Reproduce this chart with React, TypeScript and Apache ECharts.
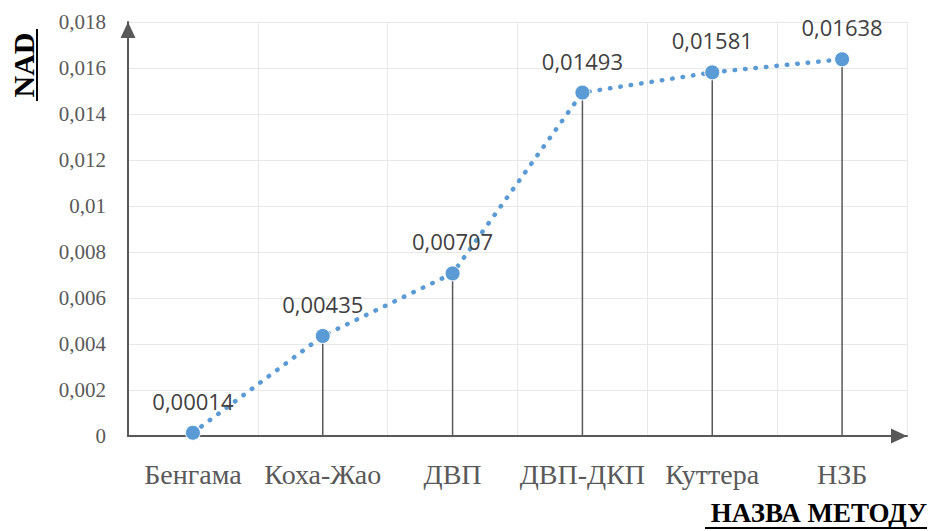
import React, { useEffect, useRef } from "react";
import * as echarts from "echarts";

const categories = ["Бенгама", "Коха-Жао", "ДВП", "ДВП-ДКП", "Куттера", "НЗБ"];
const nadValues = [0.00014, 0.00435, 0.00707, 0.01493, 0.01581, 0.01638];
const yMin = 0;
const yMax = 0.018;
const yStep = 0.002;
const yTitle = "NAD";
const xTitle = "НАЗВА МЕТОДУ";

const SERIF = "Liberation Serif";
const SANS = "Open Sans";

export default function App() {
  const ref = useRef<HTMLDivElement>(null);
  useEffect(() => {
    document.body.style.margin = "0";
    const chart = echarts.init(ref.current!, null, { renderer: "svg" });
    chart.setOption({
      animation: false,
      backgroundColor: "#ffffff",
      textStyle: { fontFamily: SERIF },
      grid: { left: 128, right: 22, top: 22, bottom: 95, containLabel: false },
      xAxis: {
        type: "category",
        data: categories,
        boundaryGap: true,
        axisLine: {
          show: true,
          lineStyle: { color: "#595959", width: 2 },
          symbol: ["none", "triangle"],
          symbolSize: [15, 16],
          symbolOffset: [0, -8],
        },
        axisTick: { show: false },
        splitLine: { show: true, interval: 0, lineStyle: { color: "#E8E8E8", width: 1 } },
        axisLabel: {
          interval: 0,
          margin: 24,
          color: "#595959",
          fontFamily: SERIF,
          fontSize: 28,
        },
      },
      yAxis: {
        type: "value",
        min: yMin,
        max: yMax,
        interval: yStep,
        axisLine: {
          show: true,
          lineStyle: { color: "#595959", width: 2 },
          symbol: ["none", "triangle"],
          symbolSize: [15, 16],
          symbolOffset: [0, -8],
        },
        axisTick: { show: false },
        splitLine: { show: true, lineStyle: { color: "#E8E8E8", width: 1 } },
        axisLabel: {
          margin: 22,
          color: "#595959",
          fontFamily: SERIF,
          fontSize: 21,
          formatter: (v: number) => String(+v.toFixed(3)).replace(".", ","),
        },
      },
      series: [
        {
          type: "bar",
          data: nadValues,
          barWidth: 1.5,
          itemStyle: { color: "#595959" },
          z: 1,
          silent: true,
        },
        {
          type: "line",
          data: nadValues,
          symbol: "circle",
          symbolSize: 15,
          itemStyle: { color: "#5B9BD5", borderColor: "#ffffff", borderWidth: 1 },
          lineStyle: { color: "#5B9BD5", width: 4.5, type: [0.5, 10], cap: "round" },
          z: 3,
          label: {
            show: true,
            position: "top",
            distance: 13,
            color: "#404040",
            fontFamily: SANS,
            fontSize: 22,
            formatter: (p: any) => String(p.value).replace(".", ","),
          },
        },
      ],
      graphic: [
        {
          type: "text",
          x: 23,
          y: 65,
          rotation: Math.PI / 2,
          style: {
            text: yTitle,
            font: `bold 30px ${SERIF}`,
            fill: "#000000",
            align: "center",
            verticalAlign: "middle",
          },
        },
        {
          type: "line",
          shape: { x1: 37, y1: 29, x2: 37, y2: 101 },
          style: { stroke: "#000000", lineWidth: 2 },
        },
        {
          type: "text",
          x: 927,
          y: 513,
          style: {
            text: xTitle,
            font: `bold 27px ${SERIF}`,
            fill: "#000000",
            align: "right",
            verticalAlign: "middle",
          },
        },
        {
          type: "line",
          shape: { x1: 705, y1: 528, x2: 927, y2: 528 },
          style: { stroke: "#000000", lineWidth: 2 },
        },
      ],
    });
    return () => chart.dispose();
  }, []);
  return <div ref={ref} style={{ width: 929, height: 531 }} />;
}
